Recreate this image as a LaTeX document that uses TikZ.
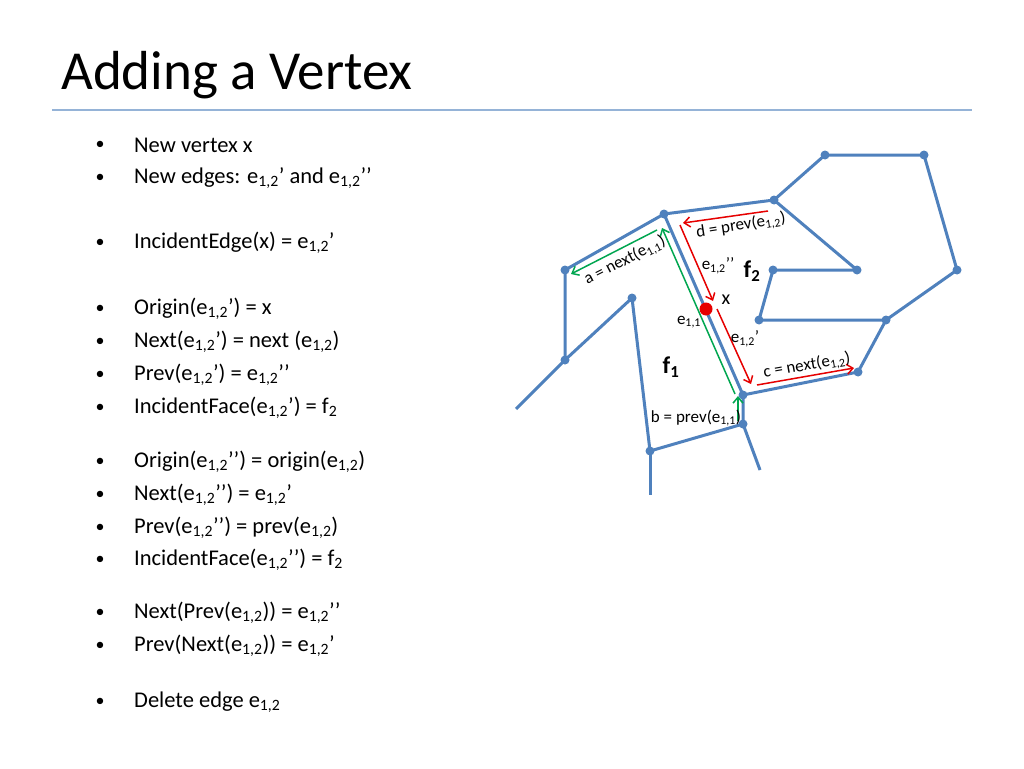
\documentclass[tikz,border=0pt]{standalone}
\usepackage{fontspec}
\setmainfont{Carlito}
\usetikzlibrary{arrows.meta}
\definecolor{eb}{RGB}{79,129,189}
\definecolor{gr}{RGB}{0,166,80}
\definecolor{rd}{RGB}{230,0,0}
\newcommand{\sx}[1]{\textsubscript{#1}}
\begin{document}
\begin{tikzpicture}[x=1pt,y=-1pt,
 edge/.style={eb,line width=3pt},
 vtx/.style={circle,fill=eb,inner sep=0pt,minimum size=9pt},
 garr/.style={gr,line width=1.5pt,-{Straight Barb[length=6pt,width=10pt]}},
 rarr/.style={rd,line width=1.5pt,-{Straight Barb[length=6pt,width=10pt]}},
 lab/.style={font=\fontsize{17}{19}\selectfont,inner sep=0pt},
 btxt/.style={anchor=west,font=\fontsize{22.5}{26}\selectfont,inner sep=0pt},
 bul/.style={font=\fontsize{18}{22}\selectfont,inner sep=0pt}]
\useasboundingbox (0,0) rectangle (1024,768);
\fill[white] (0,0) rectangle (1024,768);
\node[anchor=west,inner sep=0pt,font=\fontsize{55}{60}\selectfont] (title) at (61,75) {Adding a Vertex};
\coordinate (r1) at (52,110); \coordinate (r2) at (972,110);
\draw[color=eb!60,line width=1.2pt] (r1) -- (r2);
\foreach \y/\t [count=\i] in {145/{New vertex x},178/{New edges: e\sx{1,2}’ and e\sx{1,2}’’},243/{IncidentEdge(x) = e\sx{1,2}’},309/{Origin(e\sx{1,2}’) = x},342/{Next(e\sx{1,2}’) = next (e\sx{1,2})},375/{Prev(e\sx{1,2}’) = e\sx{1,2}’’},408/{IncidentFace(e\sx{1,2}’) = f\sx{2}},462/{Origin(e\sx{1,2}’’) = origin(e\sx{1,2})},495/{Next(e\sx{1,2}’’) = e\sx{1,2}’},528/{Prev(e\sx{1,2}’’) = prev(e\sx{1,2})},560/{IncidentFace(e\sx{1,2}’’) = f\sx{2}},613/{Next(Prev(e\sx{1,2})) = e\sx{1,2}’’},646/{Prev(Next(e\sx{1,2})) = e\sx{1,2}’},702/{Delete edge e\sx{1,2}}}{
 \node[bul] (b\i) at (100,\y) {•};
 \node[btxt] (t\i) at (134,\y) {\t};
}
\foreach \n/\p in {A/{664,214},B/{774,200},C/{825,155},D/{924,155},E/{957,270},F/{886,320},G/{858,372},H/{743,395},I/{743,424},J/{650,451},K/{565,270},L/{565,360},M/{632,298},N/{773,270},O/{857,270},P/{759,320}}{
 \coordinate (\n) at (\p);}
\coordinate (Jd) at (650,495); \coordinate (Id) at (760,470); \coordinate (Ld) at (516,409);
\draw[edge] (Ld) -- (L) -- (K) -- (A) -- (B) -- (C) -- (D) -- (E) -- (F) -- (G) -- (H) -- (I) -- (J) -- (M) -- (L);
\draw[edge] (A) -- (H); \draw[edge] (J) -- (Jd); \draw[edge] (I) -- (Id);
\draw[edge] (B) -- (O) -- (N) -- (P) -- (F);
\foreach \n in {A,B,C,D,E,F,G,H,I,J,K,L,M,N,O,P} \node[vtx] (v\n) at (\n) {};
\node[circle,fill=rd,inner sep=0pt,minimum size=13pt] (x) at (706,309) {};
\coordinate (g1s) at (735,394); \coordinate (g1e) at (662,228);
\coordinate (g2s) at (657,230); \coordinate (g2e) at (571,274);
\coordinate (g3s) at (738,421); \coordinate (g3e) at (738,396);
\draw[garr] (g1s) -- (g1e); \draw[garr] (g2s) -- (g2e); \draw[garr] (g3s) -- (g3e);
\coordinate (r1s) at (768,211); \coordinate (r1e) at (683,223);
\coordinate (r2s) at (680,225); \coordinate (r2e) at (713,301);
\coordinate (r3s) at (717,309); \coordinate (r3e) at (751,384);
\coordinate (r4s) at (757,385); \coordinate (r4e) at (854,368);
\draw[rarr] (r1s) -- (r1e); \draw[rarr] (r2s) -- (r2e); \draw[rarr] (r3s) -- (r3e); \draw[rarr] (r4s) -- (r4e);
\node[lab,rotate=9] (ld) at (741,226) {d = prev(e\sx{1,2})};
\node[lab,rotate=27] (la) at (625,261) {a = next(e\sx{1,1})};
\node[lab] (le2) at (718,266) {e\sx{1,2}’’};
\node[lab,font=\fontsize{24}{26}\selectfont\bfseries] (lf2) at (752,271) {f\sx{2}};
\node[lab,font=\fontsize{20}{22}\selectfont] (lx) at (726,300) {x};
\node[lab] (le11) at (689,322) {e\sx{1,1}};
\node[lab] (le12) at (745,339) {e\sx{1,2}’};
\node[lab,font=\fontsize{24}{26}\selectfont\bfseries] (lf1) at (671,367) {f\sx{1}};
\node[lab,rotate=10] (lc) at (807,366) {c = next(e\sx{1,2})};
\node[lab] (lb) at (696,418) {b = prev(e\sx{1,1})};
\end{tikzpicture}
\end{document}
